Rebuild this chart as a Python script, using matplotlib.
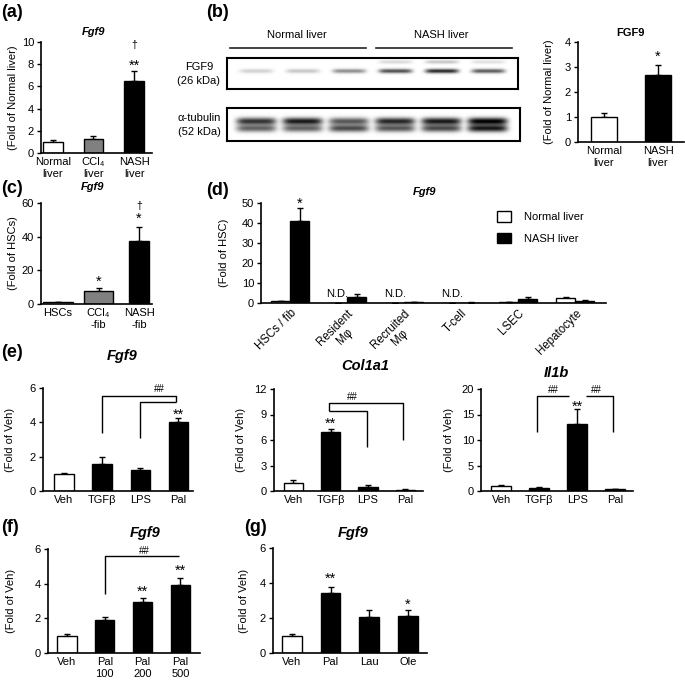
import numpy as np
import matplotlib
matplotlib.use("Agg")
import matplotlib.pyplot as plt
from matplotlib.transforms import ScaledTranslation

plt.rcParams['font.family'] = ['Liberation Sans', 'DejaVu Sans']

# ---------------- data ----------------
a_cats = ["Normal\nliver", "CCl\u2084\nliver", "NASH\nliver"]
a_vals = [1.0, 1.3, 6.45]
a_errs = [0.2, 0.2, 0.9]

b_cats = ["Normal\nliver", "NASH\nliver"]
b_vals = [1.0, 2.67]
b_errs = [0.18, 0.4]
blot_fgf9 = [0.18, 0.22, 0.45, 0.7, 0.85, 0.65]
blot_tub_upper = [0.8, 0.9, 0.65, 0.85, 0.9, 1.0]
blot_tub_lower = [0.6, 0.6, 0.7, 0.65, 0.7, 0.9]

c_cats = ["HSCs", "CCl\u2084\n-fib", "NASH\n-fib"]
c_vals = [1.0, 7.5, 37.2]
c_errs = [0.3, 1.8, 8.5]

d_cats = ["HSCs / fib", "Resident\nM\u03c6", "Recruited\nM\u03c6", "T-cell", "LSEC", "Hepatocyte"]
d_normal = [0.8, 0.0, 0.0, 0.0, 0.6, 2.6]
d_normal_err = [0.2, 0.0, 0.0, 0.0, 0.1, 0.2]
d_nash = [41.2, 3.0, 0.3, 0.2, 1.8, 1.1]
d_nash_err = [6.2, 1.3, 0.1, 0.1, 1.4, 0.6]
d_nd = [False, True, True, True, False, False]

e_cats = ["Veh", "TGF\u03b2", "LPS", "Pal"]
e_fgf9 = [1.0, 1.6, 1.2, 4.0]
e_fgf9_err = [0.05, 0.4, 0.15, 0.25]
e_col = [1.0, 7.0, 0.5, 0.15]
e_col_err = [0.25, 0.35, 0.2, 0.05]
e_il = [1.0, 0.6, 13.2, 0.3]
e_il_err = [0.15, 0.2, 2.8, 0.15]

f_cats = ["Veh", "Pal\n100", "Pal\n200", "Pal\n500"]
f_vals = [1.0, 1.93, 2.97, 3.95]
f_errs = [0.08, 0.15, 0.2, 0.35]

g_cats = ["Veh", "Pal", "Lau", "Ole"]
g_vals = [1.0, 3.45, 2.05, 2.12]
g_errs = [0.07, 0.35, 0.38, 0.33]

# ---------------- figure ----------------
W = H = 685
fig = plt.figure(figsize=(6.85, 6.85), dpi=100)
FS = 8

ov = fig.add_axes([0, 0, 1, 1])
ov.set_xlim(0, W)
ov.set_ylim(H, 0)
ov.axis('off')


def ax_px(x0, y0, x1, y1):
    return fig.add_axes([x0 / W, 1 - y1 / H, (x1 - x0) / W, (y1 - y0) / H])


def style(ax, xlim, ylim, yticks, cats, ylabel, label_x, px):
    x0, y0, x1, y1 = px
    ax.set_xlim(*xlim)
    ax.set_ylim(*ylim)
    ax.set_yticks(yticks)
    ax.set_xticks(np.arange(len(cats)))
    ax.set_xticklabels(cats, fontsize=FS, linespacing=1.2)
    for s in ['top', 'right']:
        ax.spines[s].set_visible(False)
    for s in ['left', 'bottom']:
        ax.spines[s].set_linewidth(1.2)
    ax.tick_params(axis='y', length=3, width=1, labelsize=FS, pad=2)
    ax.tick_params(axis='x', length=0, pad=3)
    ax.set_ylabel(ylabel, fontsize=FS)
    ax.yaxis.set_label_coords((label_x + 6 - x0) / (x1 - x0), 0.5)
    ax.patch.set_alpha(0)


def bars(ax, vals, errs, colors, widths=0.5, xs=None):
    x = np.arange(len(vals)) if xs is None else np.asarray(xs)
    ax.bar(x, vals, widths, color=colors, edgecolor='k', linewidth=1, zorder=2)
    ax.errorbar(x, vals, yerr=[np.zeros(len(vals)), errs], fmt='none', ecolor='k',
                elinewidth=1, capsize=2.5, capthick=1, zorder=1)


def star(ax, x, y, s, size=10.5):
    ax.annotate(s, xy=(x, y), xytext=(0, -5.6), textcoords='offset points',
                ha='center', va='baseline', fontsize=size, annotation_clip=False)


def dagger(ax, x, y):
    ax.text(x, y, "\u2020", ha='center', va='center', fontsize=FS - 0.5, clip_on=False)


def bracket(ax, pts):
    xs, ys = zip(*pts)
    ax.plot(xs, ys, color='k', lw=1, clip_on=False, solid_capstyle='butt')


def title(x, y, s, size, italic=True):
    ov.text(x, y, s, fontsize=size, fontweight='bold', style='italic' if italic else 'normal',
            ha='center', va='center')


# panel letters
for lab, (x, y) in {"(a)": (1, 12), "(b)": (206, 12), "(c)": (1, 188), "(d)": (206, 190),
                    "(e)": (1, 352), "(f)": (1, 528), "(g)": (244, 528)}.items():
    ov.text(x, y, lab, fontsize=13, fontweight='bold', ha='left', va='center')

# ---- (a)
px = (41, 42, 152, 153)
ax = ax_px(*px)
bars(ax, a_vals, a_errs, ['white', '#808080', 'black'], 0.48)
style(ax, (-0.29, 2.44), (0, 10), [0, 2, 4, 6, 8, 10], a_cats, "(Fold of Normal liver)", 12, px)
title(94, 32, "Fgf9", FS)
star(ax, 2, 8.2, "**")
dagger(ax, 2, 9.7)

# ---- (b) blot
ov.text(297, 35, "Normal liver", ha='center', va='center', fontsize=FS)
ov.text(441, 35, "NASH liver", ha='center', va='center', fontsize=FS)
ov.plot([230, 366], [48, 48], color='#222222', lw=1.2)
ov.plot([376, 512], [48, 48], color='#222222', lw=1.2)
ov.text(199, 74, "FGF9\n(26 kDa)", ha='center', va='center', fontsize=FS, linespacing=1.5)
ov.text(199, 125, "\u03b1-tubulin\n(52 kDa)", ha='center', va='center', fontsize=FS, linespacing=1.5)


def blot(px, bands, xlim, hw):
    ax = ax_px(*px)
    nx, ny = 300, 60
    xx = np.linspace(xlim[0], xlim[1], nx)
    yy = np.linspace(0, 1, ny)
    X, Y = np.meshgrid(xx, yy)
    img = np.zeros_like(X)
    for intens, yc, sy in bands:
        for i, v in enumerate(intens):
            img += v * np.exp(-((X - i) / hw) ** 6) * np.exp(-((Y - yc) / sy) ** 2)
    img = np.clip(1 - img, 0, 1)
    ax.imshow(img, cmap='gray', vmin=0, vmax=1, extent=(xlim[0], xlim[1], 1, 0),
              aspect='auto', interpolation='bilinear')
    ax.set_xticks([])
    ax.set_yticks([])
    for s in ax.spines.values():
        s.set_linewidth(1.5)
    return ax


blot((227, 58, 518, 89), [(blot_fgf9, 0.42, 0.07),
                           ([0.5 * v - 0.2 if v > 0.5 else 0 for v in blot_fgf9], 0.12, 0.06)],
     (-0.625, 5.65), 0.36)
blot((227, 108, 520, 141), [(blot_tub_upper, 0.4, 0.11), (blot_tub_lower, 0.62, 0.11)],
     (-0.625, 5.69), 0.43)

# ---- (b) right
px = (578, 42, 684, 142)
ax = ax_px(*px)
bars(ax, b_vals, b_errs, ['white', 'black'], 0.48)
style(ax, (-0.48, 1.48), (0, 4), [0, 1, 2, 3, 4], b_cats, "(Fold of Normal liver)", 548, px)
title(630, 33, "FGF9", FS, italic=False)
star(ax, 1, 3.55, "*")

# ---- (c)
px = (41, 203, 152, 304)
ax = ax_px(*px)
bars(ax, c_vals, c_errs, ['white', '#808080', 'black'], [0.72, 0.7, 0.5])
style(ax, (-0.42, 2.32), (0, 60), [0, 20, 40, 60], c_cats, "(Fold of HSCs)", 12, px)
title(93, 187, "Fgf9", FS)
star(ax, 1, 15.4, "*")
star(ax, 2, 52.9, "*")
dagger(ax, 2, 58.5)

# ---- (d)
px = (261, 203, 606, 303)
ax = ax_px(*px)
xg = np.arange(len(d_cats))
bw = 0.333
ax.bar(xg - bw / 2, d_normal, bw, color='white', edgecolor='k', linewidth=1, zorder=2, label="Normal liver")
ax.errorbar(xg - bw / 2, d_normal, yerr=[np.zeros(len(xg)), d_normal_err], fmt='none', ecolor='k',
            elinewidth=1, capsize=2.5, capthick=1, zorder=1)
ax.bar(xg + bw / 2, d_nash, bw, color='black', edgecolor='k', linewidth=1, zorder=2, label="NASH liver")
ax.errorbar(xg + bw / 2, d_nash, yerr=[np.zeros(len(xg)), d_nash_err], fmt='none', ecolor='k',
            elinewidth=1, capsize=2.5, capthick=1, zorder=1)
style(ax, (-0.51, 5.54), (0, 50), [0, 10, 20, 30, 40, 50], d_cats, "(Fold of HSC)", 223, px)
shift = ScaledTranslation(8 / 100, 0, fig.dpi_scale_trans)
for t in ax.get_xticklabels():
    t.set_rotation(45)
    t.set_ha('right')
    t.set_va('top')
    t.set_rotation_mode('anchor')
    t.set_multialignment('center')
    t.set_linespacing(1.1)
    t.set_fontsize(8.3)
    t.set_transform(t.get_transform() + shift)
ax.tick_params(axis='x', pad=3)
for i, nd in enumerate(d_nd):
    if nd:
        ax.text(i - bw / 2, 2.0, "N.D.", ha='center', va='bottom', fontsize=FS)
star(ax, 0 + bw / 2, 51.3, "*")
title(425, 192, "Fgf9", FS)
ax.legend(loc='upper left', bbox_to_anchor=(0.684, 0.915), frameon=False, fontsize=FS,
          borderaxespad=0, borderpad=0, handlelength=1.3, handleheight=1.05,
          handletextpad=1.1, labelspacing=0.95)

# ---- (e) Fgf9
px = (43, 388, 193, 491)
ax = ax_px(*px)
bars(ax, e_fgf9, e_fgf9_err, ['white', 'black', 'black', 'black'], 0.51)
style(ax, (-0.55, 3.38), (0, 6), [0, 2, 4, 6], e_cats, "(Fold of Veh)", 9, px)
title(122, 356, "Fgf9", 10.5)
star(ax, 3, 4.68, "**")
bracket(ax, [(1, 3.4), (1, 5.53), (2.93, 5.53), (2.93, 5.2)])
bracket(ax, [(2, 3.1), (2, 5.2), (2.93, 5.2)])
ax.text(2.51, 5.94, "##", ha='center', va='center', fontsize=FS - 1, clip_on=False)

# ---- (e) Col1a1
px = (274, 389, 423, 491)
ax = ax_px(*px)
bars(ax, e_col, e_col_err, ['white', 'black', 'black', 'black'], 0.51)
style(ax, (-0.51, 3.47), (0, 12), [0, 3, 6, 9, 12], e_cats, "(Fold of Veh)", 240, px)
title(365, 366, "Col1a1", 10.5)
star(ax, 1, 8.35, "**")
bracket(ax, [(0.96, 9.45), (0.96, 10.4), (2.93, 10.4), (2.93, 6.0)])
bracket(ax, [(0.96, 9.45), (1.97, 9.45), (1.97, 5.2)])
ax.text(1.57, 11.06, "##", ha='center', va='center', fontsize=FS - 1, clip_on=False)

# ---- (e) Il1b
px = (481, 389, 633, 491)
ax = ax_px(*px)
bars(ax, e_il, e_il_err, ['white', 'black', 'black', 'black'], 0.51)
style(ax, (-0.53, 3.47), (0, 20), [0, 5, 10, 15, 20], e_cats, "(Fold of Veh)", 448, px)
title(556, 373, "Il1b", 10.5)
star(ax, 2, 17.2, "**")
bracket(ax, [(0.95, 11.6), (0.95, 18.6), (1.79, 18.6)])
bracket(ax, [(2.24, 18.6), (2.95, 18.6), (2.95, 11.6)])
ax.text(1.37, 19.8, "##", ha='center', va='center', fontsize=FS - 1, clip_on=False)
ax.text(2.5, 19.8, "##", ha='center', va='center', fontsize=FS - 1, clip_on=False)

# ---- (f)
px = (48, 549, 200, 653)
ax = ax_px(*px)
bars(ax, f_vals, f_errs, ['white', 'black', 'black', 'black'], 0.51)
style(ax, (-0.5, 3.52), (0, 6), [0, 2, 4, 6], f_cats, "(Fold of Veh)", 10, px)
title(145, 533, "Fgf9", 10.5)
star(ax, 2, 3.75, "**")
star(ax, 3, 4.98, "**")
bracket(ax, [(1, 3.4), (1, 5.58), (2.96, 5.58)])
ax.text(2.06, 5.9, "##", ha='center', va='center', fontsize=FS - 1, clip_on=False)

# ---- (g)
px = (273, 548, 427, 653)
ax = ax_px(*px)
bars(ax, g_vals, g_errs, ['white', 'black', 'black', 'black'], 0.51)
style(ax, (-0.49, 3.5), (0, 6), [0, 2, 4, 6], g_cats, "(Fold of Veh)", 243, px)
title(353, 533, "Fgf9", 10.5)
star(ax, 1, 4.46, "**")
star(ax, 3, 2.97, "*")

fig.savefig("out.png", dpi=100)
